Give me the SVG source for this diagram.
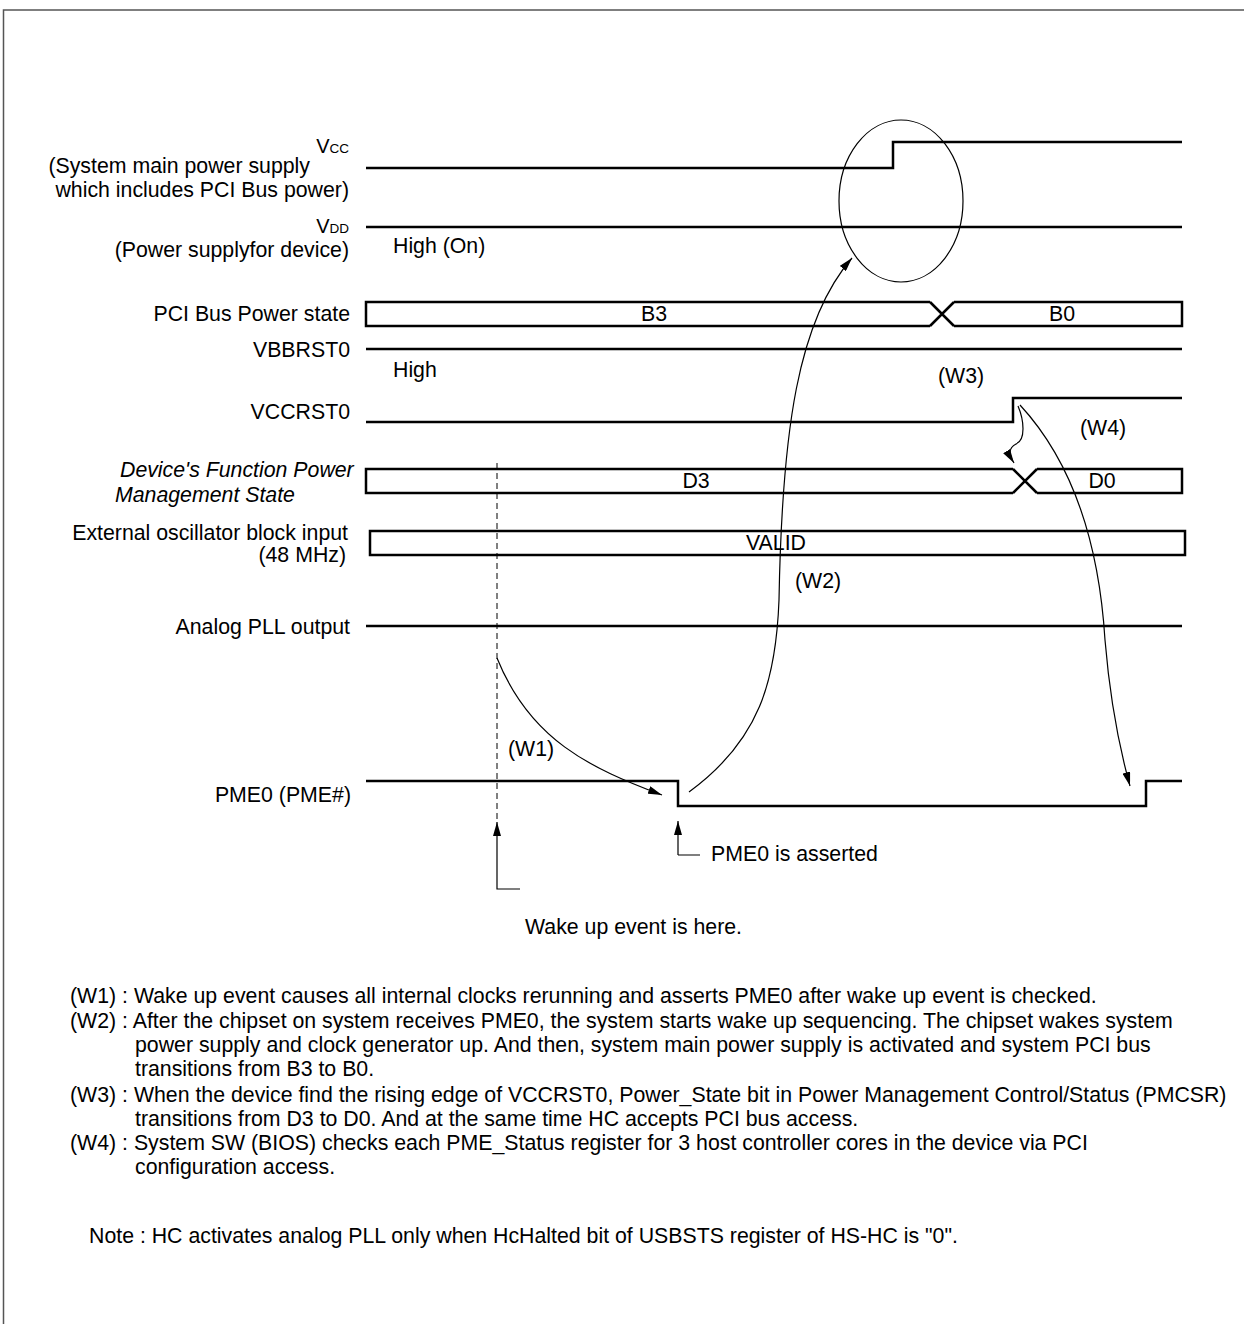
<svg xmlns="http://www.w3.org/2000/svg" width="1244" height="1324" viewBox="0 0 1244 1324">
<style>
text{font-family:"Liberation Sans",Arial,sans-serif;font-size:21.3px;fill:#000}
.r{text-anchor:end}
.m{text-anchor:middle}
.it{font-style:italic}
.sig{fill:none;stroke:#000;stroke-width:2.5}
.thin{fill:none;stroke:#000;stroke-width:1.2}
.vn{font-size:20px}
.sub{font-size:13.5px}
</style>
<defs>
<marker id="ah" viewBox="0 0 14 8" refX="14" refY="4" markerWidth="14" markerHeight="8" markerUnits="userSpaceOnUse" orient="auto">
<path d="M0,0 L14,4 L0,8 z" fill="#000"/>
</marker>
</defs>
<rect x="3.5" y="10" width="1250" height="1330" fill="none" stroke="#555" stroke-width="1.5"/>

<g id="vcc">
<text class="r vn" x="349" y="153">V<tspan class="sub">CC</tspan></text>
<text class="r" x="310" y="173">(System main power supply</text>
<text class="r" x="349" y="197">which includes PCI Bus power)</text>
<path class="sig" d="M366,168 H893 V142 H1182"/>
</g>
<g id="vdd">
<text class="r vn" x="349" y="233">V<tspan class="sub">DD</tspan></text>
<text class="r" x="349" y="257">(Power supplyfor device)</text>
<path class="sig" d="M366,227 H1182"/>
<text x="393" y="253">High (On)</text>
</g>
<g id="pci">
<text class="r" x="350" y="321">PCI Bus Power state</text>
<path class="sig" d="M930,302 H366 V326 H930 M954,302 H1182 V326 H954 M930,302 L954,326 M930,326 L954,302"/>
<text class="m" x="654" y="321">B3</text>
<text class="m" x="1062" y="321">B0</text>
</g>
<g id="vbbrst0">
<text class="r" x="350" y="357">VBBRST0</text>
<path class="sig" d="M366,349 H1182"/>
<text x="393" y="377">High</text>
</g>
<g id="vccrst0">
<text class="r" x="350" y="419">VCCRST0</text>
<path class="sig" d="M366,422 H1013 V398 H1182"/>
</g>
<g id="dstate">
<text class="it" x="120" y="477">Device's Function Power</text>
<text class="it" x="115" y="502">Management State</text>
<path class="sig" d="M1013,469 H366 V493 H1013 M1037,469 H1182 V493 H1037 M1013,469 L1037,493 M1013,493 L1037,469"/>
<text class="m" x="696" y="488">D3</text>
<text class="m" x="1102" y="488">D0</text>
</g>
<g id="osc">
<text class="r" x="348" y="540">External oscillator block input</text>
<text class="r" x="346" y="562">(48 MHz)</text>
<rect class="sig" x="370" y="531" width="815" height="24"/>
<text class="m" x="776" y="550">VALID</text>
</g>
<g id="pll">
<text class="r" x="350" y="634">Analog PLL output</text>
<path class="sig" d="M366,626 H1182"/>
</g>
<g id="pme">
<text class="r" x="351" y="802">PME0 (PME#)</text>
<path class="sig" d="M366,781 H678 V806 H1146 V781 H1182"/>
</g>
<g id="ellipse">
<ellipse class="thin" cx="901" cy="201" rx="62" ry="81"/>
</g>
<g id="labels">
<text x="938" y="383">(W3)</text>
<text x="1080" y="435">(W4)</text>
<text x="795" y="588">(W2)</text>
<text x="508" y="756">(W1)</text>
<text x="711" y="861">PME0 is asserted</text>
<text x="525" y="934">Wake up event is here.</text>
</g>
<g id="connectors">
<path d="M497,463 V820" fill="none" stroke="#000" stroke-width="1" stroke-dasharray="6,4"/>
<path class="thin" d="M497,658 C530,740 590,768 662,795" marker-end="url(#ah)"/>
<path class="thin" d="M689,792 C760,740 776,680 779,600 C782,430 798,320 852,258" marker-end="url(#ah)"/>
<path class="thin" d="M1018,406 C1024,420 1026,440 1016,444 C1008,448 1009,455 1014,463" marker-end="url(#ah)"/>
<path class="thin" d="M1020,405 C1080,470 1100,560 1105,640 C1110,700 1120,750 1130,786" marker-end="url(#ah)"/>
<path class="thin" d="M678,855 H700 M678,855 V821" marker-end="url(#ah)"/>
<path class="thin" d="M520,889 H497 V822" marker-end="url(#ah)"/>
</g>
<g id="notes">
<text x="70" y="1003">(W1) : Wake up event causes all internal clocks rerunning and asserts PME0 after wake up event is checked.</text>
<text x="70" y="1028">(W2) : After the chipset on system receives PME0, the system starts wake up sequencing. The chipset wakes system</text>
<text x="135" y="1052">power supply and clock generator up. And then, system main power supply is activated and system PCI bus</text>
<text x="135" y="1076">transitions from B3 to B0.</text>
<text x="70" y="1102">(W3) : When the device find the rising edge of VCCRST0, Power_State bit in Power Management Control/Status (PMCSR)</text>
<text x="135" y="1126">transitions from D3 to D0. And at the same time HC accepts PCI bus access.</text>
<text x="70" y="1150">(W4) : System SW (BIOS) checks each PME_Status register for 3 host controller cores in the device via PCI</text>
<text x="135" y="1174">configuration access.</text>
<text x="89" y="1243">Note : HC activates analog PLL only when HcHalted bit of USBSTS register of HS-HC is "0".</text>
</g>
</svg>
